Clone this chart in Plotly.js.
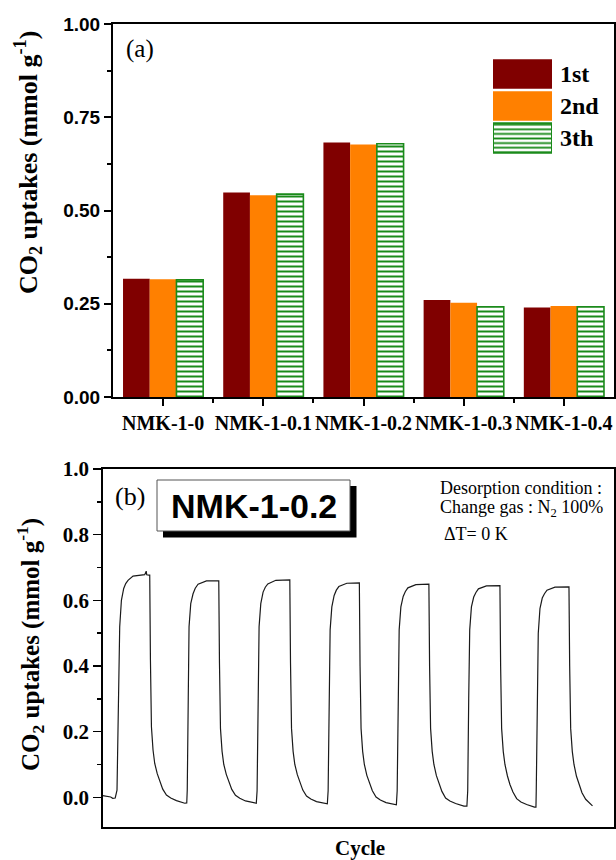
<!DOCTYPE html>
<html>
<head>
<meta charset="utf-8">
<script src="https://cdn.plot.ly/plotly-3.0.1.min.js"></script>
<style>
html,body{margin:0;padding:0;background:#fff;overflow:hidden;}
#chart{width:616px;height:860px;}
</style>
</head>
<body>
<div id="chart"></div>
<script>
// ---------- data (a): CO2 uptake for three cycles ----------
const categories = ['NMK-1-0', 'NMK-1-0.1', 'NMK-1-0.2', 'NMK-1-0.3', 'NMK-1-0.4'];
const seriesNames = ['1st', '2nd', '3th'];
const uptake1st = [0.317, 0.548, 0.682, 0.260, 0.240];
const uptake2nd = [0.316, 0.541, 0.677, 0.253, 0.244];
const uptake3th = [0.314, 0.544, 0.679, 0.242, 0.242];
const yTicksA = [0, 0.25, 0.5, 0.75, 1.0];

// ---------- data (b): NMK-1-0.2 cyclic adsorption/desorption ----------
const timeB = [
  0, 4, 8, 10, 12.5, 14.3, 16, 17, 18.7, 21, 23, 25.3, 30.3, 37, 42, 43.5, 44, 46.3,
  47, 47.7, 48.7, 50.3, 52, 54.5, 57, 60, 63.7, 68, 73.7, 82, 84,
  84.5, 85.5, 86.3, 88, 90.3, 92.5, 95.3, 103.7, 115.5,
  116, 116.7, 117.7, 119.3, 121, 123.5, 126, 129, 132.7, 137, 142.7, 151, 153.5,
  154.3, 155.3, 156.3, 158, 160.3, 162.5, 165, 173, 186.5,
  187, 187.7, 188.7, 190.3, 192, 194.5, 197, 200, 203.7, 208, 213.7, 222, 224.5,
  225.3, 226.3, 227.3, 229, 231.3, 233.5, 236, 244, 256,
  256.5, 257.2, 258.2, 259.8, 261.5, 264, 266.5, 269.5, 273.2, 277.5, 283.2, 291.5, 293.5,
  294.3, 295.3, 296.3, 298, 300.3, 302.5, 305, 313, 325.5,
  326, 326.7, 327.7, 329.3, 331, 333.5, 336, 339, 342.7, 347, 352.7, 361, 364,
  364.8, 365.8, 366.8, 368.5, 370.8, 373, 375.5, 383.5, 396.5,
  397, 397.7, 398.7, 400.3, 402, 404.5, 407, 410, 413.7, 418, 423.7, 431.5, 433,
  433.3, 434.3, 435.3, 437, 439.3, 441.5, 444, 452, 465.5,
  466, 466.7, 467.7, 469.3, 471, 473.5, 476, 479, 482.7, 486, 489.5
];
const uptakeB = [
  0.005, 0.004, 0.001, -0.003, -0.002, 0.022, 0.317, 0.52, 0.60, 0.636, 0.651, 0.661, 0.674, 0.677, 0.678, 0.689, 0.678, 0.677,
  0.677, 0.42, 0.215, 0.144, 0.103, 0.072, 0.048, 0.025, 0.007, -0.002, -0.010, -0.018, -0.017,
  0.022, 0.30, 0.52, 0.59, 0.62, 0.637, 0.649, 0.659, 0.659,
  0.659, 0.41, 0.21, 0.14, 0.10, 0.07, 0.046, 0.024, 0.006, -0.003, -0.011, -0.018, -0.018,
  0.02, 0.30, 0.52, 0.59, 0.625, 0.640, 0.65, 0.661, 0.662,
  0.662, 0.41, 0.21, 0.14, 0.10, 0.069, 0.045, 0.022, 0.004, -0.005, -0.013, -0.02, -0.02,
  0.02, 0.30, 0.51, 0.58, 0.615, 0.631, 0.642, 0.652, 0.653,
  0.653, 0.40, 0.21, 0.14, 0.10, 0.067, 0.043, 0.02, 0.001, -0.008, -0.016, -0.023, -0.023,
  0.02, 0.30, 0.51, 0.58, 0.612, 0.627, 0.638, 0.648, 0.649,
  0.649, 0.40, 0.21, 0.14, 0.10, 0.066, 0.041, 0.018, -0.002, -0.011, -0.019, -0.027, -0.027,
  0.02, 0.30, 0.51, 0.58, 0.61, 0.624, 0.635, 0.644, 0.645,
  0.645, 0.40, 0.21, 0.14, 0.10, 0.065, 0.039, 0.016, -0.004, -0.014, -0.022, -0.03, -0.03,
  0.02, 0.30, 0.50, 0.575, 0.607, 0.620, 0.631, 0.64, 0.641,
  0.641, 0.40, 0.21, 0.14, 0.10, 0.064, 0.038, 0.014, -0.006, -0.016, -0.026
];
const yTicksB = [0, 0.2, 0.4, 0.6, 0.8, 1.0];

// ---------- styling ----------
const W = 616, H = 860;
const px = x => x / W;
const py = y => 1 - y / H;
const DARKRED = '#800000', ORANGE = '#FF8000', GREEN = '#1a8a1a';
const SERIF = 'Liberation Serif, Times New Roman, serif';
const SANS = 'Liberation Sans, Arial, sans-serif';
const idx = categories.map((_, i) => i);

const barStyles = [
  {color: DARKRED, line: {width: 0}},
  {color: ORANGE, line: {width: 0}},
  {color: 'white', line: {color: GREEN, width: 1.6},
   pattern: {shape: '-', fgcolor: GREEN, bgcolor: 'white', size: 5, solidity: 0.4}}
];
const seriesValues = [uptake1st, uptake2nd, uptake3th];

const traces = [];
seriesNames.forEach((n, i) => traces.push({
  type: 'bar', name: n, x: idx, y: seriesValues[i], xaxis: 'x', yaxis: 'y',
  marker: barStyles[i], showlegend: false, hoverinfo: 'y'
}));
// legend swatches drawn as bars on their own small axes
seriesNames.forEach((n, i) => traces.push({
  type: 'bar', orientation: 'h', name: n + ' key', x: [1], y: [i], base: 0, width: 0.92,
  xaxis: 'x3', yaxis: 'y3', offsetgroup: 'leg', showlegend: false, hoverinfo: 'skip',
  marker: i === 2 ? {color: 'white', line: {color: GREEN, width: 2},
                     pattern: {shape: '-', fgcolor: GREEN, bgcolor: 'white', size: 4.6, solidity: 0.4}}
                  : barStyles[i]
}));
traces.push({type: 'scatter', mode: 'lines', x: timeB, y: uptakeB, xaxis: 'x2', yaxis: 'y2',
  line: {color: '#1a1a1a', width: 1.2}, showlegend: false, hoverinfo: 'x+y'});

const legendRowsY = [74, 106, 138];
const annotations = [
  {text: '(a)', x: px(140), y: py(49), font: {family: SERIF, size: 25, color: '#000'}},
  {text: 'CO<sub>2</sub> uptakes (mmol g<sup>-1</sup>)', x: px(28), y: py(163), textangle: -90,
   font: {family: SERIF, size: 26, color: '#000', weight: 'bold'}},
  {text: '(b)', x: px(130), y: py(496), font: {family: SERIF, size: 26, color: '#000'}},
  {text: 'NMK-1-0.2', x: px(253.5), y: py(505.5), font: {family: SANS, size: 34, color: '#000', weight: 'bold'}},
  {text: 'Desorption condition :', x: px(438), y: py(488), xanchor: 'left', font: {family: SERIF, size: 18, color: '#000'}},
  {text: 'Change gas : N<sub>2</sub> 100%', x: px(438), y: py(508), xanchor: 'left', font: {family: SERIF, size: 18, color: '#000'}},
  {text: '\u0394T= 0 K', x: px(442), y: py(534), xanchor: 'left', font: {family: SERIF, size: 18, color: '#000'}},
  {text: 'CO<sub>2</sub> uptakes (mmol g<sup>-1</sup>)', x: px(30), y: py(645), textangle: -90,
   font: {family: SERIF, size: 25, color: '#000', weight: 'bold'}},
  {text: 'Cycle', x: px(360), y: py(848), font: {family: SERIF, size: 21, color: '#000', weight: 'bold'}}
];
seriesNames.forEach((n, i) => annotations.push({
  text: n, x: px(558), y: py(legendRowsY[i]), xanchor: 'left',
  font: {family: SERIF, size: 24, color: '#000', weight: 'bold'}
}));
annotations.forEach(a => {
  a.xref = 'paper'; a.yref = 'paper'; a.showarrow = false;
  if (!a.xanchor) a.xanchor = 'center';
  a.yanchor = 'middle';
});

const shapes = [
  {type: 'rect', xref: 'paper', yref: 'paper', x0: px(163), x1: px(356.5), y0: py(537.5), y1: py(486),
   fillcolor: '#000', line: {width: 0}},
  {type: 'rect', xref: 'paper', yref: 'paper', x0: px(157), x1: px(350), y0: py(531), y1: py(480),
   fillcolor: '#fff', line: {color: '#555', width: 1}}
];

const layout = {
  width: W, height: H,
  margin: {l: 0, r: 0, t: 0, b: 0},
  paper_bgcolor: '#fff', plot_bgcolor: 'rgba(0,0,0,0)',
  barmode: 'group', bargap: 0.2, bargroupgap: 0,
  showlegend: false,
  xaxis: {
    domain: [px(113), px(614)], anchor: 'y', range: [-0.5, 4.5],
    tickmode: 'array', tickvals: idx, ticktext: categories,
    ticks: 'outside', ticklen: 7, tickwidth: 2, tickcolor: '#000',
    minor: {tickmode: 'array', tickvals: [0.5, 1.5, 2.5, 3.5], ticks: 'outside', ticklen: 4, tickwidth: 2, tickcolor: '#000'},
    showline: true, linecolor: '#000', linewidth: 2, mirror: true,
    showgrid: false, zeroline: false,
    tickfont: {family: SERIF, size: 20, color: '#000', weight: 'bold'}
  },
  yaxis: {
    domain: [py(397), py(24)], anchor: 'x', range: [0, 1],
    tickmode: 'array', tickvals: yTicksA, tickformat: '.2f',
    ticks: 'outside', ticklen: 7, tickwidth: 2, tickcolor: '#000',
    minor: {dtick: 0.125, tick0: 0, ticks: 'outside', ticklen: 4, tickwidth: 2, tickcolor: '#000'},
    showline: true, linecolor: '#000', linewidth: 2, mirror: true,
    showgrid: false, zeroline: false,
    tickfont: {family: SANS, size: 19, color: '#000', weight: 'bold'}
  },
  xaxis2: {
    domain: [px(102.7), px(614)], anchor: 'y2', range: [0, 511],
    showticklabels: false, ticks: '',
    showline: true, linecolor: '#000', linewidth: 1.6, mirror: true,
    showgrid: false, zeroline: false
  },
  yaxis2: {
    domain: [py(827.3), py(469)], anchor: 'x2', range: [-0.0913, 1.0],
    tickmode: 'array', tickvals: yTicksB, tickformat: '.1f',
    ticks: 'outside', ticklen: 8, tickwidth: 1.6, tickcolor: '#000',
    minor: {dtick: 0.1, tick0: 0, ticks: 'outside', ticklen: 4, tickwidth: 1.6, tickcolor: '#000'},
    showline: true, linecolor: '#000', linewidth: 1.6, mirror: true,
    showgrid: false, zeroline: false,
    tickfont: {family: SERIF, size: 21, color: '#000', weight: 'bold'}
  },
  xaxis3: {domain: [px(493), px(552)], anchor: 'y3', range: [0, 1], visible: false, fixedrange: true},
  yaxis3: {domain: [py(154), py(58)], anchor: 'x3', range: [2.5, -0.5], visible: false, fixedrange: true},
  annotations: annotations,
  shapes: shapes
};

Plotly.newPlot('chart', traces, layout, {displayModeBar: false, staticPlot: true});
</script>
</body>
</html>
